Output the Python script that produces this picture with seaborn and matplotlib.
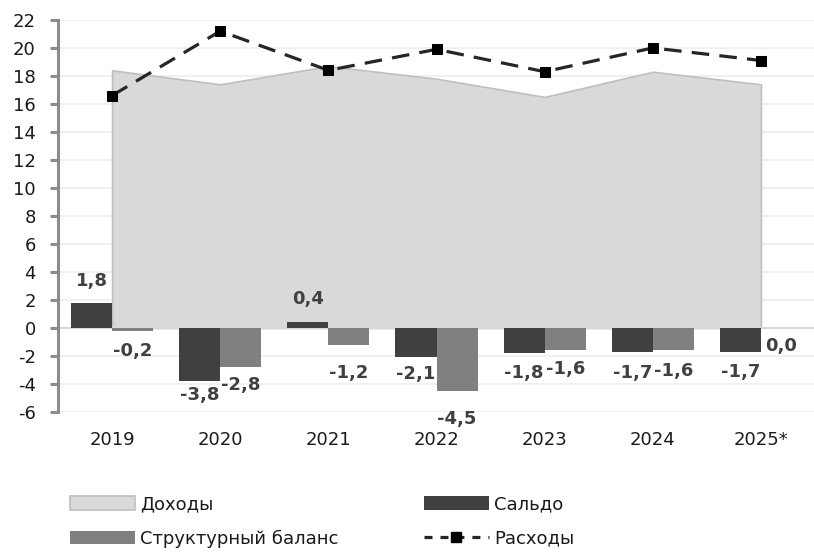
import numpy as np
import pandas as pd
import matplotlib
matplotlib.use("Agg")
import matplotlib.pyplot as plt
from matplotlib.patches import Patch
from matplotlib.lines import Line2D
import seaborn as sns

years = ["2019", "2020", "2021", "2022", "2023", "2024", "2025*"]
dohody = [18.4, 17.4, 18.7, 17.8, 16.5, 18.3, 17.4]
raskhody = [16.6, 21.2, 18.4, 19.9, 18.3, 20.0, 19.1]
saldo = [1.8, -3.8, 0.4, -2.1, -1.8, -1.7, -1.7]
struct_bal = [-0.2, -2.8, -1.2, -4.5, -1.6, -1.6, 0.0]
yticks = list(range(-6, 24, 2))

# label offsets (points) -- styling only
saldo_off = [16, -10, 17, -12, -14.5, -15.5, -14.5]
struct_off = [-14.5, -12.5, -20, -20, -13.5, -15, -13]

sns.set_theme(style="white")
plt.rcParams["font.family"] = ["DejaVu Sans"]

fig = plt.figure(figsize=(8.14, 5.53), dpi=100)
ax = fig.add_axes([0.0713, 0.255, 0.93, 0.709])

pos = np.arange(len(years))

# area (Доходы)
ax.fill_between(pos, 0, dohody, facecolor="#d9d9d9", edgecolor="#bfbfbf",
                linewidth=1.2, zorder=1)

# bars
df = pd.DataFrame({
    "year": years * 2,
    "value": saldo + struct_bal,
    "series": ["Сальдо"] * len(years) + ["Структурный баланс"] * len(years),
})
sns.barplot(data=df, x="year", y="value", hue="series", order=years,
            palette=["#404040", "#808080"], width=0.76, saturation=1,
            linewidth=0, ax=ax, legend=False, zorder=3)

# line (Расходы)
sns.lineplot(x=pos, y=raskhody, ax=ax, color="#262626", linewidth=2.3,
             marker="s", markersize=7.5, markerfacecolor="black",
             markeredgecolor="black", dashes=False, zorder=5)
ax.lines[-1].set_dashes((5.5, 3.2))

# labels
lab_kw = dict(textcoords="offset points", ha="center", va="center",
              fontsize=13, fontweight="bold", color="#404040", zorder=6)
bw = 0.38
for i in range(len(years)):
    for v, dx, off in ((saldo[i], -bw / 2, saldo_off[i]),
                       (struct_bal[i], bw / 2, struct_off[i])):
        txt = f"{v:.1f}".replace(".", ",")
        ax.annotate(txt, (i + dx, v), xytext=(0, off), **lab_kw)

# axes styling
ax.set_xlim(-0.5, 6.5)
ax.set_ylim(-6, 22)
ax.set_yticks(yticks)
ax.set_yticklabels([str(t) for t in yticks])
ax.set_xlabel("")
ax.set_ylabel("")
ax.yaxis.grid(True, color="#eeeeee", linewidth=1.2, zorder=0)
ax.set_axisbelow(True)
ax.axhline(0, color="#d9d9d9", linewidth=1.5, zorder=2)
for s in ("top", "right", "bottom"):
    ax.spines[s].set_visible(False)
ax.spines["left"].set_color("#8c8c8c")
ax.spines["left"].set_linewidth(2.2)
ax.tick_params(axis="y", which="major", direction="out", length=6, width=2.2,
               color="#8c8c8c", labelsize=13, labelcolor="#1a1a1a", pad=10, left=True)
ax.tick_params(axis="x", length=0, labelsize=13, labelcolor="#1a1a1a", pad=14)

handles = [
    Patch(facecolor="#d9d9d9", edgecolor="#bfbfbf", linewidth=1.2),
    Patch(facecolor="#808080", edgecolor="none"),
    Patch(facecolor="#404040", edgecolor="none"),
    Line2D([0], [0], color="#262626", linewidth=2.3, dashes=(2.5, 2.5),
           marker="s", markersize=7, markerfacecolor="black", markeredgecolor="black"),
]
labels = ["Доходы", "Структурный баланс", "Сальдо", "Расходы"]
fig.legend(handles, labels, ncol=2, loc="center left",
           bbox_to_anchor=(70 / 814, 1 - 521.5 / 553), frameon=False,
           fontsize=13, handlelength=3.6, handleheight=0.8, handletextpad=0.3,
           columnspacing=4.7, labelspacing=0.9, borderpad=0, borderaxespad=0,
           labelcolor="#1a1a1a")

fig.savefig("out.png", dpi=100)
